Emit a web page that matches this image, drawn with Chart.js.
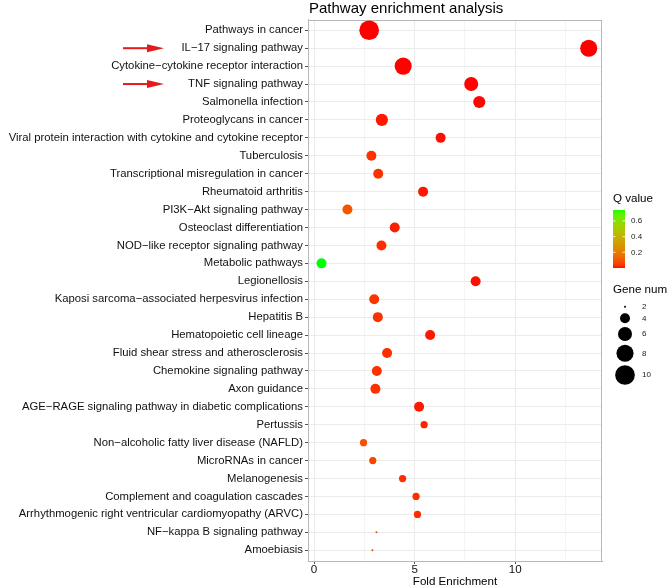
<!DOCTYPE html>
<html><head><meta charset="utf-8">
<script src="https://cdn.jsdelivr.net/npm/chart.js@4.4.1/dist/chart.umd.min.js"></script>
<style>html,body{margin:0;padding:0;background:#fff}#wrap{width:669px;height:587px;position:relative}</style>
</head><body><div id="wrap"><canvas id="c" width="669" height="587"></canvas></div>
<script>
const pathways = [
  "Pathways in cancer",
  "IL\u221217 signaling pathway",
  "Cytokine\u2212cytokine receptor interaction",
  "TNF signaling pathway",
  "Salmonella infection",
  "Proteoglycans in cancer",
  "Viral protein interaction with cytokine and cytokine receptor",
  "Tuberculosis",
  "Transcriptional misregulation in cancer",
  "Rheumatoid arthritis",
  "PI3K\u2212Akt signaling pathway",
  "Osteoclast differentiation",
  "NOD\u2212like receptor signaling pathway",
  "Metabolic pathways",
  "Legionellosis",
  "Kaposi sarcoma\u2212associated herpesvirus infection",
  "Hepatitis B",
  "Hematopoietic cell lineage",
  "Fluid shear stress and atherosclerosis",
  "Chemokine signaling pathway",
  "Axon guidance",
  "AGE\u2212RAGE signaling pathway in diabetic complications",
  "Pertussis",
  "Non\u2212alcoholic fatty liver disease (NAFLD)",
  "MicroRNAs in cancer",
  "Melanogenesis",
  "Complement and coagulation cascades",
  "Arrhythmogenic right ventricular cardiomyopathy (ARVC)",
  "NF\u2212kappa B signaling pathway",
  "Amoebiasis"
];
const foldEnrichment = [2.74, 13.65, 4.43, 7.81, 8.21, 3.37, 6.29, 2.85, 3.19, 5.42,
  1.66, 4.01, 3.35, 0.37, 8.03, 2.99, 3.17, 5.77, 3.63, 3.12,
  3.05, 5.22, 5.47, 2.46, 2.92, 4.40, 5.07, 5.14, 3.10, 2.90];
const geneNum = [10, 8, 8, 6, 5, 5, 4, 4, 4, 4,
  4, 4, 4, 4, 4, 4, 4, 4, 4, 4,
  4, 4, 3, 3, 3, 3, 3, 3, 2, 2];
const qValue = [0.0001, 0.0001, 0.0002, 0.001, 0.002, 0.01, 0.005, 0.035, 0.035, 0.01,
  0.10, 0.015, 0.03, 0.74, 0.005, 0.04, 0.035, 0.01, 0.03, 0.035,
  0.035, 0.01, 0.02, 0.085, 0.065, 0.03, 0.03, 0.03, 0.07, 0.07];
const xTickLabels = [0, 5, 10];
const xMinorTicks = [2.5, 7.5, 12.5];
const geneLegend = [2, 4, 6, 8, 10];
const qLegend = [0.2, 0.4, 0.6];
const highlighted = ["IL\u221217 signaling pathway", "TNF signaling pathway"];

const FONT = '"Liberation Sans", Arial, Helvetica, sans-serif';

// size scale (area proportional)
function radius(v) { return Math.sqrt(4 + 384 * (v - 2) / 8) / 2; }

// colour scale: red -> green, interpolated in Lab
function srgbToLin(c){c/=255;return c<=0.04045?c/12.92:Math.pow((c+0.055)/1.055,2.4);}
function linToSrgb(c){c=c<=0.0031308?12.92*c:1.055*Math.pow(c,1/2.4)-0.055;return Math.max(0,Math.min(255,Math.round(c*255)));}
function rgbToLab(r,g,b){
  r=srgbToLin(r);g=srgbToLin(g);b=srgbToLin(b);
  let X=(0.4124*r+0.3576*g+0.1805*b)/0.95047, Y=(0.2126*r+0.7152*g+0.0722*b), Z=(0.0193*r+0.1192*g+0.9505*b)/1.08883;
  const f=t=>t>0.008856?Math.cbrt(t):7.787*t+16/116;
  const fx=f(X),fy=f(Y),fz=f(Z);
  return [116*fy-16,500*(fx-fy),200*(fy-fz)];
}
function labToRgb(L,a,b){
  const fy=(L+16)/116, fx=fy+a/500, fz=fy-b/200;
  const fi=t=>{const t3=t*t*t;return t3>0.008856?t3:(t-16/116)/7.787;};
  const X=fi(fx)*0.95047, Y=fi(fy), Z=fi(fz)*1.08883;
  const r= 3.2406*X-1.5372*Y-0.4986*Z, g=-0.9689*X+1.8758*Y+0.0415*Z, bb=0.0557*X-0.2040*Y+1.0570*Z;
  return [linToSrgb(r),linToSrgb(g),linToSrgb(bb)];
}
const LOW = rgbToLab(255,0,0), HIGH = rgbToLab(0,255,0);
const qMin = 0, qMax = Math.max(...qValue);
function colorFor(q){
  const t = Math.max(0, Math.min(1, (q - qMin) / (qMax - qMin)));
  const c = labToRgb(LOW[0]+(HIGH[0]-LOW[0])*t, LOW[1]+(HIGH[1]-LOW[1])*t, LOW[2]+(HIGH[2]-LOW[2])*t);
  return 'rgb(' + c.join(',') + ')';
}

const decor = {
  id: 'decor',
  beforeDatasetsDraw(chart) {
    const {ctx, chartArea: a} = chart;
    ctx.save();
    ctx.strokeStyle = '#b8b8b8';
    ctx.lineWidth = 1;
    ctx.strokeRect(Math.round(a.left) + 0.5, Math.round(a.top) + 0.5, Math.round(a.right - a.left) - 1, Math.round(a.bottom - a.top) - 1);
    ctx.restore();
  },
  afterDraw(chart) {
    const {ctx, chartArea: a} = chart;
    const ys = chart.scales.y;
    ctx.save();
    ctx.fillStyle = '#000';
    ctx.textBaseline = 'middle';
    // title
    ctx.font = '15px ' + FONT;
    ctx.textAlign = 'left';
    ctx.fillText('Pathway enrichment analysis', a.left + 1, 9);
    // x axis title
    ctx.font = '11.6px ' + FONT;
    ctx.textAlign = 'center';
    ctx.fillText('Fold Enrichment', (a.left + a.right) / 2, 581.5);
    // Q value legend
    ctx.textAlign = 'left';
    ctx.fillText('Q value', 613, 199);
    const cbL = 613, cbW = 12, cbTop = 210, cbBot = 268;
    for (let y = cbTop; y < cbBot; y++) {
      const q = qMax - (y + 0.5 - cbTop) / (cbBot - cbTop) * (qMax - qMin);
      ctx.fillStyle = colorFor(q);
      ctx.fillRect(cbL, y, cbW, 1);
    }
    ctx.font = '8px ' + FONT;
    qLegend.forEach(v => {
      const y = cbBot - (v - qMin) / (qMax - qMin) * (cbBot - cbTop);
      ctx.strokeStyle = 'rgba(255,255,255,0.8)';
      ctx.lineWidth = 1;
      ctx.beginPath(); ctx.moveTo(cbL, y); ctx.lineTo(cbL + 2.5, y); ctx.moveTo(cbL + cbW - 2.5, y); ctx.lineTo(cbL + cbW, y); ctx.stroke();
      ctx.fillStyle = '#1a1a1a';
      ctx.fillText(v.toFixed(1), 631, y);
    });
    // Gene num legend
    ctx.fillStyle = '#000';
    ctx.font = '11.6px ' + FONT;
    ctx.fillText('Gene num', 613, 290);
    const keyY = [306.7, 318.3, 334, 353.3, 375];
    ctx.font = '8px ' + FONT;
    geneLegend.forEach((v, i) => {
      ctx.fillStyle = '#000';
      ctx.beginPath(); ctx.arc(625, keyY[i], radius(v), 0, Math.PI * 2); ctx.fill();
      ctx.fillStyle = '#1a1a1a';
      ctx.fillText(String(v), 642, keyY[i]);
    });
    // arrows
    ctx.fillStyle = '#e41a1c';
    ctx.strokeStyle = '#e41a1c';
    ctx.lineWidth = 2;
    highlighted.forEach(name => {
      const y = ys.getPixelForValue(pathways.indexOf(name));
      ctx.beginPath(); ctx.moveTo(123, y); ctx.lineTo(150, y); ctx.stroke();
      ctx.beginPath(); ctx.moveTo(147, y - 4); ctx.lineTo(164, y); ctx.lineTo(147, y + 4); ctx.closePath(); ctx.fill();
    });
    ctx.restore();
  }
};

new Chart(document.getElementById('c'), {
  type: 'bubble',
  data: {
    datasets: [{
      data: pathways.map((p, i) => ({x: foldEnrichment[i], y: i, r: radius(geneNum[i])})),
      backgroundColor: qValue.map(colorFor),
      borderWidth: 0,
      hoverBorderWidth: 0
    }]
  },
  options: {
    responsive: false,
    animation: false,
    events: [],
    layout: {padding: {left: 0, right: 67, top: 19.5, bottom: 0}},
    plugins: {legend: {display: false}, tooltip: {enabled: false}, title: {display: false}},
    scales: {
      x: {
        type: 'linear', min: -0.3, max: 14.31,
        afterBuildTicks: s => { s.ticks = [0, 2.5, 5, 7.5, 10, 12.5].map(v => ({value: v})); },
        afterFit: s => { s.height = 26; },
        ticks: {
          autoSkip: false, maxRotation: 0, padding: -1,
          color: '#111', font: {family: FONT, size: 11.6},
          callback: v => xTickLabels.includes(v) ? String(v) : ''
        },
        grid: {
          color: c => (c.tick && xMinorTicks.includes(c.tick.value)) ? '#f4f4f4' : '#ebebeb',
          tickColor: c => (c.tick && xMinorTicks.includes(c.tick.value)) ? 'rgba(0,0,0,0)' : '#555',
          tickLength: 3, lineWidth: 1
        },
        border: {display: true, color: '#b8b8b8'}
      },
      y: {
        type: 'linear', min: -0.6, max: pathways.length - 0.4, reverse: true,
        afterBuildTicks: s => { s.ticks = pathways.map((p, i) => ({value: i})); },
        afterFit: s => { s.width = 308; },
        ticks: {
          autoSkip: false, padding: 2,
          color: '#111', font: {family: FONT, size: 11.3},
          callback: v => pathways[v] || ''
        },
        grid: {color: '#ebebeb', tickColor: '#555', tickLength: 3, lineWidth: 1},
        border: {display: true, color: '#b8b8b8'}
      }
    }
  },
  plugins: [decor]
});
</script>
</body></html>
